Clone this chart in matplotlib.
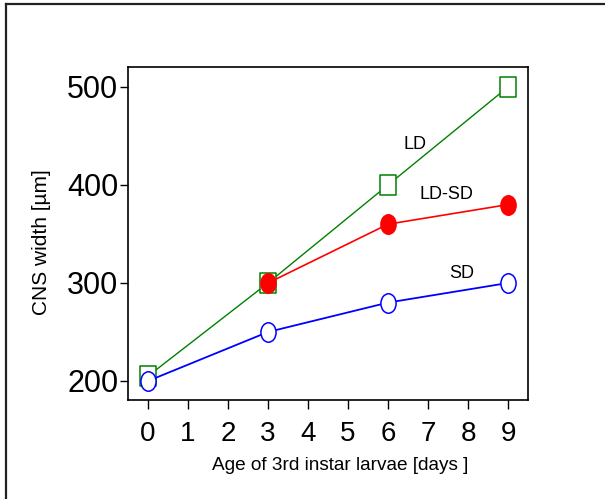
import numpy as np
import matplotlib
matplotlib.use('Agg')
import matplotlib.pyplot as plt
from matplotlib.path import Path
from matplotlib.transforms import Affine2D
from matplotlib.lines import Line2D

plt.rcParams['font.family'] = ['Liberation Sans', 'DejaVu Sans']

# data
days_ld = [0, 3, 6, 9]
width_ld = [205, 300, 400, 500]
days_ldsd = [3, 6, 9]
width_ldsd = [300, 360, 380]
days_sd = [0, 3, 6, 9]
width_sd = [200, 250, 280, 300]

x_ticks = list(range(10))
y_ticks = [200, 300, 400, 500]

# markers in the original are a bit taller than wide
aspect = 0.78
ellipse = Affine2D().scale(aspect, 1).transform_path(Path.unit_circle())
box = Path([(-aspect, -1), (aspect, -1), (aspect, 1), (-aspect, 1), (-aspect, -1)],
           [Path.MOVETO, Path.LINETO, Path.LINETO, Path.LINETO, Path.CLOSEPOLY])

fig = plt.figure(figsize=(6.05, 4.99), dpi=100)
ax = fig.add_axes([128 / 605, 1 - 400 / 499, 400 / 605, 333 / 499])

ax.plot(days_ld, width_ld, color='#008000', lw=1.0, marker=box, ms=14,
        mfc='white', mec='#008000', mew=1.1)
ax.plot(days_ldsd, width_ldsd, color='#ff0000', lw=1.2, marker=ellipse, ms=14,
        mfc='#ff0000', mec='#ff0000', mew=1.1)
ax.plot(days_sd, width_sd, color='#0000ff', lw=1.3, marker=ellipse, ms=14,
        mfc='white', mec='#0000ff', mew=1.1)

ax.text(6.67, 441.5, 'LD', fontsize=13, ha='center', va='center')
ax.text(7.47, 390, 'LD-SD', fontsize=13, ha='center', va='center')
ax.text(7.84, 310, 'SD', fontsize=13, ha='center', va='center')

ax.set_xlim(-0.5, 9.5)
ax.set_ylim(180.6, 520.4)
ax.set_xticks(x_ticks)
ax.set_yticks(y_ticks)
ax.tick_params(axis='x', direction='out', length=6.5, width=1.0, labelsize=20, pad=8.5)
ax.tick_params(axis='y', direction='out', length=5.8, width=1.0, labelsize=22, pad=1.2)
for s in ax.spines.values():
    s.set_linewidth(1.2)

fig.text(41.5 / 605, 1 - 241.7 / 499, 'CNS width [µm]', rotation=90,
         fontsize=15, ha='center', va='center')
fig.text(340 / 605, 1 - 465 / 499, 'Age of 3rd instar larvae [days ]',
         fontsize=13.7, ha='center', va='center')

# outer frame (only left and top visible)
fig.add_artist(Line2D([6 / 605, 6 / 605], [0, 1 - 4 / 499], color='#222222', lw=1.6,
                      transform=fig.transFigure))
fig.add_artist(Line2D([6 / 605, 1], [1 - 4 / 499, 1 - 4 / 499], color='#222222', lw=1.6,
                      transform=fig.transFigure))

fig.savefig('out.png', dpi=100)
